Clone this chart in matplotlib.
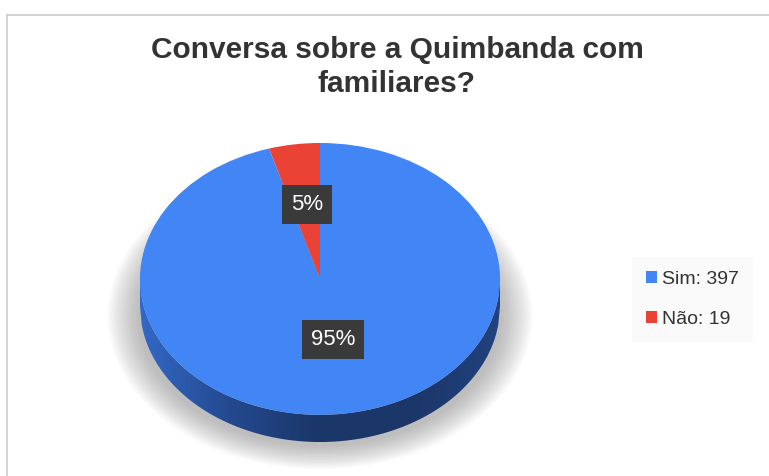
import numpy as np
import matplotlib
matplotlib.use('Agg')
import matplotlib.pyplot as plt
from matplotlib.colors import LinearSegmentedColormap
from matplotlib.patches import Polygon, Ellipse
from matplotlib.lines import Line2D

# data
labels = ['Sim', 'Não']
counts = [397, 19]
colors = ['#4285F4', '#EA4335']
title = 'Conversa sobre a Quimbanda com\nfamiliares?'

plt.rcParams['font.family'] = ['Liberation Sans', 'DejaVu Sans']

W, H = 769, 476
fig = plt.figure(figsize=(W / 100, H / 100), dpi=100)
fig.patch.set_facecolor('white')

# light frame on top and left
fig.add_artist(Line2D([7 / W, 1], [1 - 15 / H, 1 - 15 / H], color='#cccccc', lw=1.2))
fig.add_artist(Line2D([7 / W, 7 / W], [0, 1 - 15 / H], color='#cccccc', lw=1.2))

fig.text(397 / W, 1 - 67 / H, title, ha='center', va='center', fontsize=21.5,
         fontweight='bold', color='#333333', linespacing=1.25)

# pie axes: center (320, 279) px, rx 180, ry 136
cx, cy, rx, ry = 320, 279, 180, 136
x0, x1, y0, y1 = -1.3, 1.3, -1.45, 1.2
left = cx + x0 * rx
top = cy - y1 * ry
ax = fig.add_axes([left / W, 0, (x1 - x0) * rx / W, (H - top) / H])
ax.axis('off')

depth = 0.2

# soft shadow, mostly under the pie
for k in range(16):
    e = 0.18 * (1 - k / 16)
    ax.add_patch(Ellipse((0, -0.27), 2 * (1.0 + e), 2 * (0.95 + e),
                         facecolor='#777777', edgecolor='none', alpha=0.035, zorder=1))

# side wall with gradient
xs = np.linspace(-1, 1, 200)
arc = -np.sqrt(1 - xs ** 2)
wall = np.concatenate([np.column_stack([xs, arc]),
                       np.column_stack([xs[::-1], arc[::-1] - depth])])
wall_patch = Polygon(wall, closed=True, facecolor='none', edgecolor='none')
ax.add_patch(wall_patch)
cmap = LinearSegmentedColormap.from_list('wall', ['#3269c6', '#24498f', '#1b3668', '#1b3668', '#22427f'])
img = ax.imshow(np.linspace(0, 1, 256)[None, :], cmap=cmap, extent=(-1, 1, -1 - depth, 0),
                aspect='auto', zorder=2)
img.set_clip_path(wall_patch)

wedges, texts, autotexts = ax.pie(
    counts, colors=colors, startangle=90, counterclock=False, radius=1,
    autopct='%1.0f%%', pctdistance=0.5,
    textprops=dict(color='white', fontsize=16),
    wedgeprops=dict(linewidth=0, zorder=3))
for t in autotexts:
    t.set_zorder(5)
    x, y = t.get_position()
    t.set_position((x, y + 0.05))
    t.set_bbox(dict(boxstyle='square,pad=0.4', facecolor='#3a3a3a', edgecolor='none'))

ax.set_aspect('auto')
ax.set_xlim(x0, x1)
ax.set_ylim(y0, y1)

leg = fig.legend(wedges, [f'{l}: {c}' for l, c in zip(labels, counts)],
                 loc='upper left', bbox_to_anchor=(632 / W, 1 - 257 / H),
                 bbox_transform=fig.transFigure, frameon=True, fancybox=False,
                 facecolor='#f9f9f9', edgecolor='none', fontsize=14,
                 handlelength=0.6, handleheight=0.6, handletextpad=0.25,
                 labelspacing=1.2, borderpad=0.7, borderaxespad=0)
for t in leg.get_texts():
    t.set_color('#333333')

fig.savefig('out.png', dpi=100)
